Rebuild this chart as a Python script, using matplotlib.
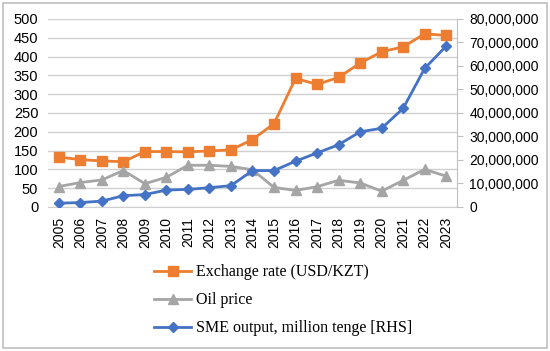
import numpy as np
from matplotlib import pyplot as plt
from matplotlib.patches import Rectangle
from matplotlib.ticker import FuncFormatter

years = [str(y) for y in range(2005, 2024)]
exchange_rate = [132.9, 126.0, 122.6, 120.3, 147.5, 147.4, 146.6, 149.1, 152.1, 179.2,
                 221.7, 342.2, 326.0, 344.7, 382.8, 412.9, 426.0, 460.5, 456.3]
oil_price = [54.5, 65.0, 72.0, 97.0, 62.0, 79.0, 111.0, 111.0, 108.0, 99.0,
             52.0, 44.0, 54.0, 71.0, 64.0, 42.0, 71.0, 100.0, 82.0]
sme_output = [1.6e6, 1.9e6, 2.5e6, 4.8e6, 5.3e6, 7.2e6, 7.5e6, 8.2e6, 9.1e6, 15.5e6,
              15.5e6, 19.5e6, 23.0e6, 26.5e6, 32.0e6, 33.5e6, 42.0e6, 59.0e6, 68.5e6]

ORANGE = "#ED7D31"
GRAY = "#A5A5A5"
BLUE = "#4472C4"
GRID = "#D0D0D0"

plt.rcParams["font.family"] = ["Liberation Sans", "DejaVu Sans"]

W, H = 550, 351
fig = plt.figure(figsize=(W / 100, H / 100), dpi=100)

# outer chart border
fig.add_artist(Rectangle((3 / W, 3 / H), 544 / W, 345 / H, transform=fig.transFigure,
                         fill=False, edgecolor="#BFBFBF", linewidth=1.2))

x0, x1 = 48, 457
ytop, ybot = 19, 207
ax = fig.add_axes([x0 / W, (H - ybot) / H, (x1 - x0) / W, (ybot - ytop) / H])
ax2 = ax.twinx()

x = np.arange(len(years))

l1, = ax.plot(x, exchange_rate, color=ORANGE, lw=2, marker="s", ms=7,
              label="Exchange rate (USD/KZT)", zorder=3)
l2, = ax.plot(x, oil_price, color=GRAY, lw=2, marker="^", ms=7,
              label="Oil price", zorder=3)
l3, = ax2.plot(x, sme_output, color=BLUE, lw=2, marker="D", ms=5.5,
               label="SME output, million tenge [RHS]", zorder=3)

ax.set_xlim(-0.5, len(years) - 0.5)
ax.set_ylim(0, 500)
ax.set_yticks(np.arange(0, 501, 50))
ax2.set_ylim(0, 80e6)
ax2.set_yticks(np.arange(0, 80e6 + 1, 10e6))
ax2.yaxis.set_major_formatter(FuncFormatter(lambda v, p: f"{int(v):,}"))

ax.grid(axis="y", color=GRID, lw=1)
ax.set_axisbelow(True)
ax.set_xticks(x)
ax.set_xticklabels(years, rotation=90)

for a in (ax, ax2):
    for s in ("top", "left"):
        a.spines[s].set_visible(False)
ax.spines["right"].set_visible(False)
ax2.spines["bottom"].set_visible(False)
ax.spines["bottom"].set_color(GRID)
ax2.spines["right"].set_color("#BFBFBF")

ax.tick_params(axis="y", length=0, pad=7, labelsize=10.5, colors="#000000")
ax.tick_params(axis="x", length=0, pad=7, labelsize=10)
ax2.tick_params(axis="y", length=4, color="#BFBFBF", pad=5, labelsize=10)

leg = fig.legend(handles=[l1, l2, l3], loc="upper left",
                 bbox_to_anchor=(148 / W, (H - 258) / H), frameon=False,
                 prop={"family": "Liberation Serif", "size": 11.5},
                 handlelength=2.3, labelspacing=0.75, handletextpad=0.3,
                 borderaxespad=0)

fig.savefig("out.png", dpi=100)
